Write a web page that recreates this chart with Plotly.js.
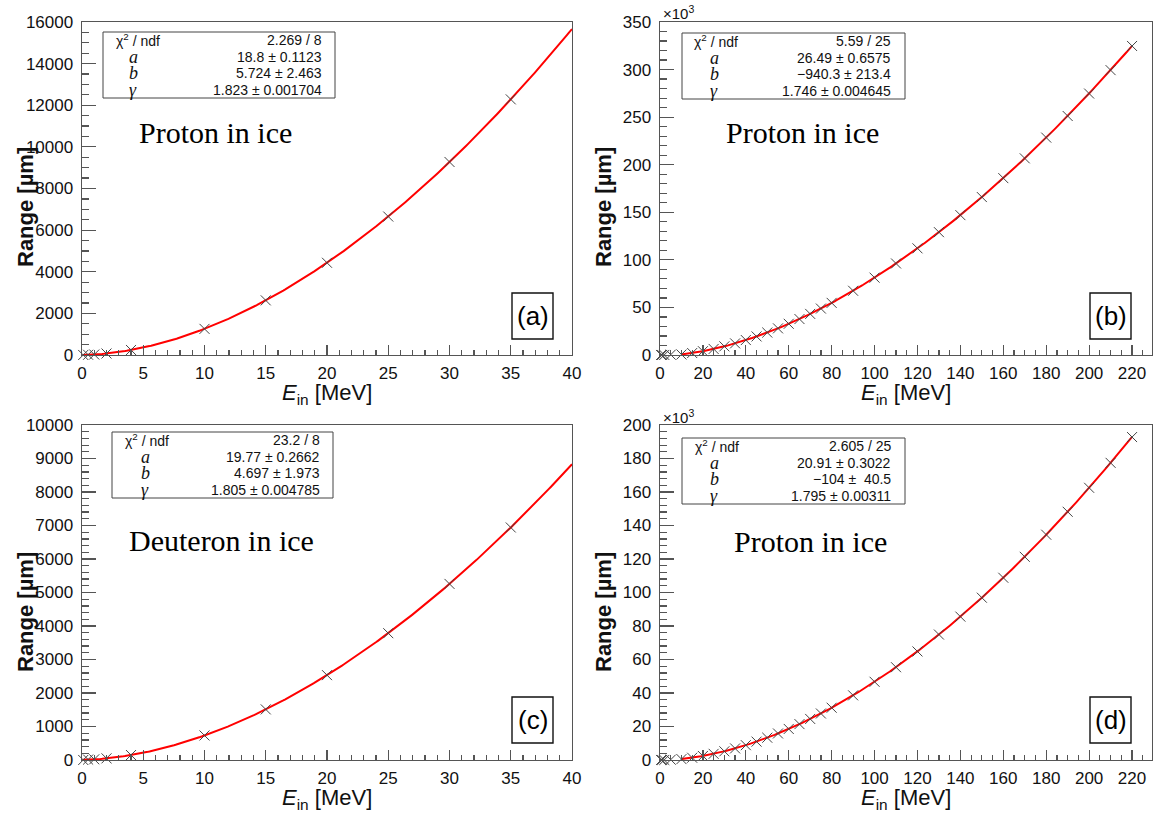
<!DOCTYPE html>
<html>
<head>
<meta charset="utf-8">
<script src="https://cdn.plot.ly/plotly-3.0.1.min.js"></script>
<style>
  html, body { margin: 0; padding: 0; background: #fff; }
  #chart { width: 1154px; height: 816px; }
</style>
</head>
<body>
<div id="chart"></div>
<script>
// ---- (a) proton in ice, 0-40 MeV, range in µm
const energyA = [0.1, 0.5, 1, 2, 4, 10, 15, 20, 25, 30, 35];
const rangeA = [1, 11, 24, 72, 241, 1256, 2625, 4431, 6652, 9274, 12283];
const paramsA = [18.8, 5.724, 1.823];
const errorsA = ['0.1123', '2.463', '0.001704'];
const chiA = '2.269 / 8';

// ---- (b) proton in ice, 0-220 MeV, range in 10^3 µm
const energyB = [0.5, 1, 2, 5, 10, 15, 20, 25, 30, 35, 40, 45, 50, 55, 60, 65, 70, 75, 80,
                 90, 100, 110, 120, 130, 140, 150, 160, 170, 180, 190, 200, 210, 220];
const rangeB = [0.010, 0.024, 0.072, 0.34, 0.54, 2.06, 4.01, 6.37, 9.11, 12.2, 15.7, 19.5, 23.6, 28.0, 32.8, 37.8, 43.2, 48.8, 54.8,
                67.5, 81.3, 96.2, 112.1, 129.1, 147.0, 166.0, 185.9, 206.7, 228.5, 251.2, 274.8, 299.4, 324.8];
const paramsB = [26.49, -940.3, 1.746];
const errorsB = ['0.6575', '213.4', '0.004645'];
const chiB = '5.59 / 25';

// ---- (c) deuteron in ice, 0-40 MeV, range in µm
const energyC = [0.1, 0.5, 1, 2, 4, 10, 15, 20, 25, 30, 35];
const rangeC = [1, 13, 21, 49, 148, 732, 1511, 2533, 3785, 5256, 6941];
const paramsC = [19.77, 4.697, 1.805];
const errorsC = ['0.2662', '1.973', '0.004785'];
const chiC = '23.2 / 8';

// ---- (d) 0-220 MeV, range in 10^3 µm
const energyD = [0.5, 1, 2, 5, 10, 15, 20, 25, 30, 35, 40, 45, 50, 55, 60, 65, 70, 75, 80,
                 90, 100, 110, 120, 130, 140, 150, 160, 170, 180, 190, 200, 210, 220];
const rangeD = [0.013, 0.021, 0.049, 0.20, 0.54, 1.35, 2.40, 3.69, 5.19, 6.92, 8.85, 10.98, 13.30, 15.83, 18.54, 21.43, 24.51, 27.77, 31.21,
                38.6, 46.7, 55.4, 64.8, 74.9, 85.6, 96.9, 108.8, 121.3, 134.5, 148.2, 162.5, 177.4, 192.8];
const paramsD = [20.91, -104, 1.795];
const errorsD = ['0.3022', '\u00a040.5', '0.00311'];
const chiD = '2.605 / 25';

const panelTitles = ['Proton in ice', 'Proton in ice', 'Deuteron in ice', 'Proton in ice'];
const panelTags = ['(a)', '(b)', '(c)', '(d)'];

// Fit function R(E) = s * (a * (E/s)^gamma + b); s = mass ratio to the proton
function fitCurve(p, s, e0, e1, unit) {
  const xs = [], ys = [];
  const n = 300;
  for (let i = 0; i <= n; i++) {
    const e = e0 + (e1 - e0) * i / n;
    xs.push(e);
    ys.push(s * (p[0] * Math.pow(e / s, p[2]) + p[1]) / unit);
  }
  return { xs, ys };
}

const W = 1154, H = 816;
const px = v => v / W;
const py = v => 1 - v / H;

// plot-frame boxes in pixels: [left, right, top, bottom]
const frames = [
  [82, 572, 22, 355],
  [660, 1152, 22, 355],
  [82, 572, 425, 760],
  [660, 1152, 425, 760]
];

const fits = [
  fitCurve(paramsA, 1, 0.05, 40, 1),
  fitCurve(paramsB, 1, 10, 220, 1000),
  fitCurve(paramsC, 2, 0.05, 40, 1),
  fitCurve(paramsD, 2, 10, 220, 1000)
];
const dataX = [energyA, energyB, energyC, energyD];
const dataY = [rangeA, rangeB, rangeC, rangeD];

const traces = [];
for (let i = 0; i < 4; i++) {
  const ax = i === 0 ? '' : String(i + 1);
  traces.push({
    x: fits[i].xs, y: fits[i].ys, type: 'scatter', mode: 'lines',
    line: { color: '#ff0000', width: 2 },
    xaxis: 'x' + ax, yaxis: 'y' + ax, hoverinfo: 'skip'
  });
  traces.push({
    x: dataX[i], y: dataY[i], type: 'scatter', mode: 'markers',
    marker: { symbol: 'x-thin-open', size: 10, color: '#444', line: { color: '#444', width: 1 } },
    xaxis: 'x' + ax, yaxis: 'y' + ax, cliponaxis: false
  });
}

const tickFont = { family: 'Liberation Sans, Arial, sans-serif', size: 17, color: '#111' };
function xAxis(f, range, dtick, minor, anchor) {
  return {
    domain: [px(f[0]), px(f[1])], range: range, anchor: anchor,
    showline: true, mirror: true, linecolor: '#555', linewidth: 1.4,
    ticks: 'inside', ticklen: 10, tickwidth: 1.2, tickcolor: '#555',
    tickmode: 'linear', dtick: dtick, tick0: 0, tickformat: 'd',
    minor: { tickmode: 'linear', tick0: 0, dtick: minor, ticks: 'inside', ticklen: 5, tickwidth: 1.2, tickcolor: '#555', showgrid: false },
    showgrid: false, zeroline: false, tickfont: tickFont, ticklabelstandoff: 2
  };
}
function yAxis(f, range, dtick, minor, anchor) {
  return {
    domain: [py(f[3]), py(f[2])], range: range, anchor: anchor,
    showline: true, mirror: true, linecolor: '#555', linewidth: 1.4,
    ticks: 'inside', ticklen: 14, tickwidth: 1.2, tickcolor: '#555',
    tickmode: 'linear', dtick: dtick, tick0: 0, tickformat: 'd',
    minor: { tickmode: 'linear', tick0: 0, dtick: minor, ticks: 'inside', ticklen: 7, tickwidth: 1.2, tickcolor: '#555', showgrid: false },
    showgrid: false, zeroline: false, tickfont: tickFont, ticklabelstandoff: 4
  };
}

const annotations = [];
const shapes = [];

function addText(x, y, text, size, opts) {
  annotations.push(Object.assign({
    xref: 'paper', yref: 'paper', x: px(x), y: py(y), text: text, showarrow: false,
    xanchor: 'center', yanchor: 'middle',
    font: { family: 'Liberation Sans, Arial, sans-serif', size: size, color: '#111' }
  }, opts || {}));
}

function fmtNum(v) {
  return v < 0 ? '\u2212' + String(-v) : String(v);
}

// stat boxes: [left, right, top, bottom, chi-left, name-centre, values-right]
const statBoxes = [
  [103, 335, 32, 98, 114, 133, 324],
  [682, 905, 33, 99, 692, 714, 893],
  [112, 333, 432, 498, 123, 145, 322],
  [682, 905, 438, 504, 693, 714, 893]
];
const params = [paramsA, paramsB, paramsC, paramsD];
const errors = [errorsA, errorsB, errorsC, errorsD];
const chis = [chiA, chiB, chiC, chiD];
const names = ['a', 'b', '\u03b3'];

for (let i = 0; i < 4; i++) {
  const s = statBoxes[i];
  shapes.push({ type: 'rect', xref: 'paper', yref: 'paper',
    x0: px(s[0]), x1: px(s[1]), y0: py(s[3]), y1: py(s[2]),
    line: { color: '#444', width: 1 }, fillcolor: 'rgba(255,255,255,0)' });
  const rowH = (s[3] - s[2]) / 4;
  const r0 = s[2] + rowH / 2;
  addText(s[4], r0, '\u03c7<sup>2</sup> / ndf', 14, { xanchor: 'left' });
  addText(s[6], r0, chis[i], 14, { xanchor: 'right' });
  for (let k = 0; k < 3; k++) {
    const yy = r0 + rowH * (k + 1);
    addText(s[5], yy, '<i>' + names[k] + '</i>', 18,
      { font: { family: 'Liberation Serif, Times New Roman, serif', size: 18, color: '#111' } });
    addText(s[6], yy, fmtNum(params[i][k]) + ' \u00b1 ' + errors[i][k], 14, { xanchor: 'right' });
  }
}

// panel titles and tags
const titlePos = [[215, 133], [802, 133], [221, 540], [810, 541]];
const tagBoxes = [[512, 553, 293, 339], [1090, 1131, 293, 339], [512, 553, 697, 743], [1090, 1131, 697, 743]];
for (let i = 0; i < 4; i++) {
  addText(titlePos[i][0], titlePos[i][1], panelTitles[i], 30,
    { font: { family: 'Liberation Serif, Times New Roman, serif', size: 30, color: '#000' } });
  const t = tagBoxes[i];
  shapes.push({ type: 'rect', xref: 'paper', yref: 'paper',
    x0: px(t[0]), x1: px(t[1]), y0: py(t[3]), y1: py(t[2]),
    line: { color: '#111', width: 1.4 }, fillcolor: '#fff' });
  addText((t[0] + t[1]) / 2, (t[2] + t[3]) / 2, panelTags[i], 26, { font: { family: 'Liberation Sans, Arial, sans-serif', size: 26, color: '#000' } });

  const f = frames[i];
  // axis titles
  addText((f[0] + f[1]) / 2, f[3] + 39, '<i>E</i><sub>in</sub> [MeV]', 22,
    { font: { family: 'Liberation Sans, Arial, sans-serif', size: 22, color: '#111' } });
  addText(f[0] - 57, f[3] - 148, '<b>Range [\u00b5m]</b>', 22,
    { textangle: -90, font: { family: 'Liberation Sans, Arial, sans-serif', size: 22, color: '#111' } });
}
// exponent labels on the 10^3 µm axes
addText(661, 13, '\u00d710<sup>3</sup>', 15, { xanchor: 'left' });
addText(661, 416, '\u00d710<sup>3</sup>', 15, { xanchor: 'left' });

const layout = {
  width: W, height: H,
  margin: { l: 0, r: 0, t: 0, b: 0 },
  paper_bgcolor: '#fff', plot_bgcolor: '#fff',
  showlegend: false,
  xaxis: xAxis(frames[0], [0, 40], 5, 1, 'y'),
  yaxis: yAxis(frames[0], [0, 16000], 2000, 500, 'x'),
  xaxis2: xAxis(frames[1], [0, 229.3], 20, 5, 'y2'),
  yaxis2: yAxis(frames[1], [0, 350], 50, 10, 'x2'),
  xaxis3: xAxis(frames[2], [0, 40], 5, 1, 'y3'),
  yaxis3: yAxis(frames[2], [0, 10000], 1000, 200, 'x3'),
  xaxis4: xAxis(frames[3], [0, 229.3], 20, 5, 'y4'),
  yaxis4: yAxis(frames[3], [0, 200], 20, 4, 'x4'),
  annotations: annotations,
  shapes: shapes
};

Plotly.newPlot('chart', traces, layout, { displayModeBar: false, staticPlot: true });
</script>
</body>
</html>
